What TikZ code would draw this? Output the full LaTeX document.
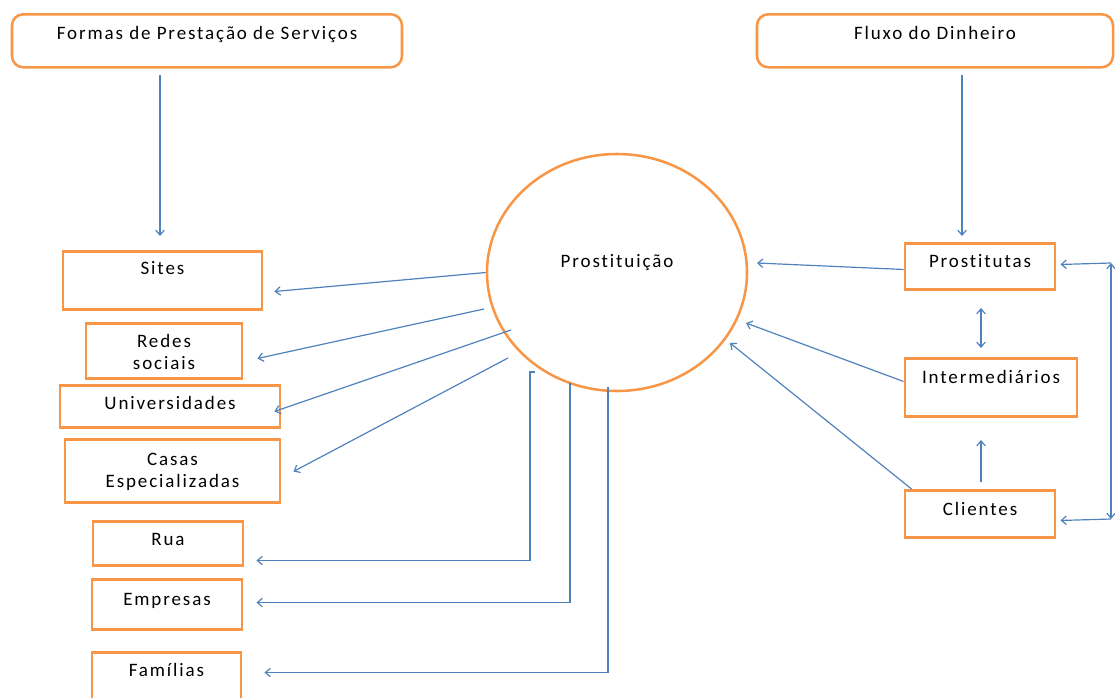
\documentclass[tikz,border=0pt]{standalone}
\usepackage{fontspec}
\setmainfont[LetterSpace=10,Ligatures=NoCommon]{Carlito}
\usetikzlibrary{arrows.meta,calc,shapes.geometric}
\definecolor{laranja}{HTML}{F79646}
\definecolor{azul}{HTML}{4F81BD}
\newcommand{\pxu}{0.025cm}

\begin{document}
\begin{tikzpicture}[x=\pxu,y=-\pxu,
    texto/.style={font=\fontsize{13.5}{15.6}\selectfont},
    caixa/.style={texto,draw=laranja,line width=2.1pt,inner sep=0pt,align=center,anchor=north},
    titulo/.style={caixa,rounded corners=8pt,line width=1.8pt},
    tam/.style n args={3}{minimum width=#1*\pxu,text height=#2*\pxu,text depth=#3*\pxu},
    ponta/.tip={Straight Barb[length=3.5pt,width=6pt]},
    seta/.style={draw=azul,line width=0.85pt,-ponta},
    seta2/.style={seta,ponta-ponta}]
    \clip (0,0) rectangle (1115,697);
    \node[titulo,tam={390}{25}{28}] (formas) at (207,13) {Formas de Prestação de Serviços};
    \node[titulo,tam={356}{25}{28}] (fluxo) at (935,13) {Fluxo do Dinheiro};
    \node[texto,draw=laranja,line width=1.8pt,ellipse,inner sep=0pt,minimum width=260*\pxu,minimum height=237*\pxu,text height=10*\pxu,text depth=21*\pxu] (prost) at (617,272.5) {Prostituição};
    \node[caixa,tam={199}{23}{35}] (sites) at (162.5,250) {Sites};
    \node[caixa,tam={156}{46}{9}] (redes) at (164,322) {Redes\\sociais};
    \node[caixa,tam={220}{24}{18}] (univ) at (170,384) {Universidades};
    \node[caixa,tam={215}{48}{15}] (casas) at (172.5,438) {Casas\\Especializadas};
    \node[caixa,tam={150}{24}{20}] (rua) at (168,520) {Rua};
    \node[caixa,tam={150}{26}{24}] (empresas) at (167,578) {Empresas};
    \node[caixa,tam={149}{24}{30}] (familias) at (166.5,651) {Famílias};
    \node[caixa,tam={150}{24}{22}] (prostitutas) at (980,242) {Prostitutas};
    \node[caixa,tam={172}{25}{33}] (inter) at (991,357) {Intermediários};
    \node[caixa,tam={150}{25}{22}] (clientes) at (980,489) {Clientes};
    \coordinate (dir1) at (1111,263);
    \coordinate (dir2) at (1111,519);
    \draw[seta] ($(formas.south)+(-47,6)$) -- ($(sites.north)+(-2.5,-14)$);
    \draw[seta] ($(fluxo.south)+(27,6)$) -- ($(prostitutas.north)+(-18,-6)$);
    \draw[seta] (prost.west) -- ($(sites.east)+(11,11)$);
    \draw[seta] ($(prost.center)+(-133,36.5)$) -- ($(redes.east)+(14,7.5)$);
    \draw[seta] ($(prost.center)+(-106,57.5)$) -- ($(univ.east)+(-7,5)$);
    \draw[seta] ($(prost.center)+(-109,85.5)$) -- ($(casas.east)+(12,0.5)$);
    \draw[seta] ($(prost.center)+(-82,99.5)$) -- ++(-5,0) |- ($(rua.east)+(12,17)$);
    \draw[seta] ($(prost.center)+(-47,110.5)$) |- ($(empresas.east)+(13,-2)$);
    \draw[seta] ($(prost.center)+(-9,114)$) |- ($(familias.east)+(22,-7)$);
    \draw[seta] ($(prostitutas.west)+(0,3)$) -- ($(prost.center)+(140,-9.5)$);
    \draw[seta] ($(inter.west)+(0,-6)$) -- ($(prost.center)+(129,50.5)$);
    \draw[seta] ($(clientes.north west)+(8,0)$) -- ($(prost.center)+(113,70.5)$);
    \draw[seta2] ($(prostitutas.south)+(1,17)$) -- ($(inter.north)+(-10,-9)$);
    \draw[seta] ($(clientes.north)+(1,-7)$) -- ($(inter.south)+(-10,22)$);
    \draw[seta2] (dir1) -- (dir2);
    \draw[seta] (dir1) -- ($(prostitutas.east)+(4,-2)$);
    \draw[seta] (dir2) -- ($(clientes.east)+(4,6.5)$);
\end{tikzpicture}
\end{document}
